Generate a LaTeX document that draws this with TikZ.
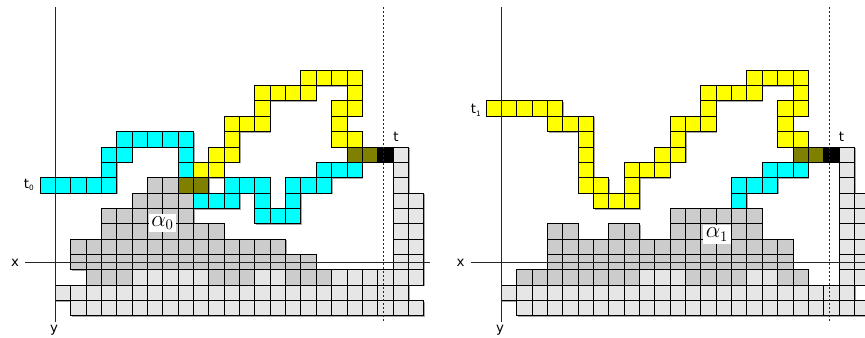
\documentclass[tikz,border=0pt]{standalone}
\usepackage{fontspec}
\setmainfont{DejaVu Sans}
\definecolor{cDark}{HTML}{CCCCCC}
\definecolor{cLight}{HTML}{E6E6E6}
\definecolor{cCyan}{HTML}{00FFFF}
\definecolor{cYel}{HTML}{FFFF00}
\definecolor{cOlive}{HTML}{808000}
\definecolor{cBlack}{HTML}{000000}
\def\cellsz{15.35}
\newcommand\shadowcell[3]{\fill[black!35] (#2*\cellsz+1.1,#3*\cellsz+1.1) rectangle ++(\cellsz,\cellsz);}
\newcommand\realcell[3]{\filldraw[fill=#1, draw=black, line width=0.75pt] (#2*\cellsz,#3*\cellsz) rectangle ++(\cellsz,\cellsz);}
\let\onecell\realcell
\newcommand\rowcells[3]{\foreach \c in {#3}{\onecell{#1}{\c}{#2}}}
\newcommand\commoncells{%
 \rowcells{cLight}{7}{1,...,23}
 \rowcells{cLight}{8}{2,...,24}
 \foreach \r in {-2,...,5}{\onecell{cLight}{23}{\r}}
 \foreach \r in {1,...,5}{\onecell{cLight}{24}{\r}}
 \rowcells{cYel}{-7}{17,18,19,20}
 \rowcells{cYel}{-6}{14,15,16,17,20}
 \rowcells{cYel}{-5}{14,19,20}
 \rowcells{cYel}{-4}{12,13,14,19}
 \rowcells{cYel}{-3}{12,19,20}
 \rowcells{cYel}{-2}{11,12}
 \rowcells{cYel}{-1}{10,11}
 \rowcells{cCyan}{-1}{18,19,20}
 \rowcells{cCyan}{0}{16,17,18}
 \rowcells{cCyan}{1}{16}
 \rowcells{cOlive}{-2}{20,21}
 \rowcells{cBlack}{-2}{22}
}
\newcommand\leftcells{%
 \commoncells
 \rowcells{cDark}{0}{7,8}
 \rowcells{cDark}{1}{6,...,9}
 \rowcells{cDark}{2}{4,...,9}
 \rowcells{cDark}{3}{4,...,11}
 \rowcells{cDark}{4}{2,...,15}
 \rowcells{cDark}{5}{2,...,17}
 \rowcells{cDark}{6}{3,4,5,11,12,13,16,17,18}
 \rowcells{cLight}{6}{6,7,8,9,10,14,15,19,20,21,22,23,24}
 \rowcells{cCyan}{-3}{5,6,7,8,9}
 \rowcells{cCyan}{-2}{4,5,9}
 \rowcells{cCyan}{-1}{4,9}
 \rowcells{cCyan}{0}{0,1,2,3,4,12,13,14}
 \rowcells{cCyan}{1}{10,11,12,14}
 \rowcells{cCyan}{2}{14,15,16}
 \rowcells{cOlive}{0}{9,10}
}
\newcommand\rightcells{%
 \commoncells
 \rowcells{cDark}{2}{12,...,17}
 \rowcells{cDark}{3}{4,5,8,9,12,13,14,15,16,17}
 \rowcells{cDark}{4}{4,...,19}
 \rowcells{cDark}{5}{4,...,19}
 \rowcells{cDark}{6}{2,3,4,5,6,7,8,9,13,14,15,16,19,20}
 \rowcells{cLight}{6}{10,11,12,17,18,23,24}
 \rowcells{cYel}{-5}{0,1,2,3,4}
 \rowcells{cYel}{-4}{4,5,6}
 \rowcells{cYel}{-3}{6}
 \rowcells{cYel}{-2}{6}
 \rowcells{cYel}{-1}{6,9}
 \rowcells{cYel}{0}{6,7,9}
 \rowcells{cYel}{1}{7,8,9}
}
\begin{document}
\begin{tikzpicture}[x=0.75pt,y=-0.75pt,
  every node/.style={inner sep=0pt},
  lbl/.style={font=\fontsize{10}{12}\selectfont},
  alab/.style={fill=white, inner sep=1.8pt, font=\fontsize{16}{19}\selectfont},
  axisline/.style={line width=0.8pt, draw=black!85},
  tline/.style={line width=0.8pt, draw=black!85, dash pattern=on 1.5pt off 1.5pt}]
\useasboundingbox (0,0) rectangle (865,337);
\clip (0,0) rectangle (865,337);
% left panel
\begin{scope}[shift={(40,177.7)}]
 \let\onecell\shadowcell \leftcells
 \let\onecell\realcell \leftcells
\end{scope}
% right panel
\begin{scope}[shift={(486,177.7)}]
 \let\onecell\shadowcell \rightcells
 \let\onecell\realcell \rightcells
\end{scope}
% axes left
\coordinate (yaTL) at (55.35,7);
\coordinate (yaBL) at (55.35,322);
\coordinate (xaLL) at (25,262.7);
\coordinate (xaRL) at (430,262.7);
\coordinate (dTL) at (383.5,7);
\coordinate (dBL) at (383.5,322);
\draw[axisline] (yaTL) -- (yaBL);
\draw[axisline] (xaLL) -- (xaRL);
\draw[tline] (dTL) -- (dBL);
% axes right
\coordinate (yaTR) at (501.35,7);
\coordinate (yaBR) at (501.35,322);
\coordinate (xaLR) at (471,262.7);
\coordinate (xaRR) at (876,262.7);
\coordinate (dTR) at (829.5,7);
\coordinate (dBR) at (829.5,322);
\draw[axisline] (yaTR) -- (yaBR);
\draw[axisline] (xaLR) -- (xaRR);
\draw[tline] (dTR) -- (dBR);
% labels
\node[lbl, anchor=base] (xL) at (15,266.7) {x};
\node[lbl, anchor=base] (yL) at (54,332) {y};
\node[lbl, anchor=base] (tL) at (396,141) {t};
\node[lbl, anchor=base east] (t0) at (34,188.3) {t\raisebox{-0.35ex}{\fontsize{5.5}{6}\selectfont 0}};
\node[alab] (a0) at (162.5,223.3) {$\alpha_0$};
\node[lbl, anchor=base] (xR) at (460.5,266.7) {x};
\node[lbl, anchor=base] (yR) at (500,332) {y};
\node[lbl, anchor=base] (tR) at (841.5,141) {t};
\node[lbl, anchor=base east] (t1) at (481,113.5) {t\raisebox{-0.35ex}{\fontsize{5.5}{6}\selectfont 1}};
\node[alab] (a1) at (717,234.5) {$\alpha_1$};
\end{tikzpicture}
\end{document}
